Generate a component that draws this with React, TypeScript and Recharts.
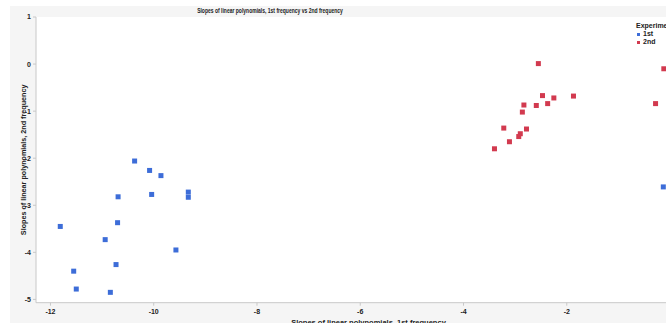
import { ScatterChart, Scatter, XAxis, YAxis, Label } from "recharts";

// 1st frequency slope (x) vs 2nd frequency slope (y)
const firstX = [-11.81, -11.55, -11.5, -10.94, -10.84, -10.73, -10.7, -10.69, -10.37, -10.08, -10.04, -9.86, -9.57, -9.33, -9.33, -0.13];
const firstY = [-3.45, -4.4, -4.78, -3.73, -4.85, -4.26, -3.37, -2.82, -2.06, -2.26, -2.77, -2.37, -3.95, -2.72, -2.83, -2.61];

const secondX = [-2.55, -2.47, -2.25, -1.87, -2.83, -2.59, -2.37, -2.86, -3.22, -2.78, -2.9, -2.93, -3.11, -3.4, -0.12, -0.28];
const secondY = [0.01, -0.67, -0.72, -0.68, -0.87, -0.88, -0.84, -1.02, -1.36, -1.38, -1.48, -1.54, -1.65, -1.8, -0.1, -0.84];

const xTicks = [-12, -10, -8, -6, -4, -2, 0];
const yTicks = [-5, -4, -3, -2, -1, 0, 1];

const BLUE = "#3d6dd8";
const RED = "#d23a4f";

const firstData = firstX.map((x, i) => ({ x, y: firstY[i] }));
const secondData = secondX.map((x, i) => ({ x, y: secondY[i] }));

const font = "'Liberation Sans', Arial, sans-serif";
const tickStyle = { fontSize: 7, fontWeight: 700, fill: "#222", fontFamily: font };

const Square = (props: any) => {
  const { cx, cy, fill } = props;
  return <rect x={cx - 2.5} y={cy - 2.5} width={5} height={5} fill={fill} />;
};

export default function App() {
  return (
    <div style={{ position: "absolute", left: 0, top: 0, width: 666, height: 323, overflow: "hidden", background: "#fff" }}>
      <div style={{ position: "absolute", left: 10, top: 6, width: 700, height: 330, background: "#f5f5f5" }} />
      <div style={{ position: "absolute", left: 36, top: 17, width: 700, height: 286, background: "#fff" }} />
      <div style={{ position: "absolute", left: 0, top: 0 }}>
        <ScatterChart width={720} height={323} margin={{ top: 17, right: 19, bottom: 0, left: 0 }}>
          <XAxis
            type="number"
            dataKey="x"
            domain={[-12.28, 0.6]}
            ticks={xTicks}
            allowDataOverflow
            stroke="#c8c8c8"
            tickSize={3}
            tick={tickStyle}
            tickMargin={3}
            height={20.3}
          >
            <Label value="Slopes of linear polynomials, 1st frequency" position="bottom" offset={-3} style={{ fontSize: 7.5, fontWeight: 700, fill: "#222", fontFamily: font }} />
          </XAxis>
          <YAxis
            type="number"
            dataKey="y"
            domain={[-5.07, 1]}
            ticks={yTicks}
            allowDataOverflow
            stroke="#c8c8c8"
            tickSize={3}
            tick={tickStyle}
            tickMargin={2}
            width={36}
          >
            <Label value="Slopes of linear polynomials, 2nd frequency" angle={-90} position="left" offset={-23} style={{ fontSize: 7.2, fontWeight: 700, fill: "#222", fontFamily: font, textAnchor: "middle" }} />
          </YAxis>
          <Scatter name="1st" data={firstData} fill={BLUE} shape={Square} isAnimationActive={false} />
          <Scatter name="2nd" data={secondData} fill={RED} shape={Square} isAnimationActive={false} />
        </ScatterChart>
      </div>
      <div style={{ position: "absolute", left: 0, top: 7, width: 540, textAlign: "center", fontSize: 6.5, fontWeight: 700, fontFamily: font, color: "#222", transform: "scaleX(0.77)" }}>
        Slopes of linear polynomials, 1st frequency vs 2nd frequency
      </div>
      <div style={{ position: "absolute", left: 636, top: 22, fontSize: 7, fontWeight: 700, fontFamily: font, color: "#222", lineHeight: "8px", whiteSpace: "nowrap" }}>
        <div>Experiment</div>
        <div><span style={{ display: "inline-block", width: 3, height: 3, background: BLUE, marginLeft: 1, marginRight: 3, verticalAlign: "middle" }} />1st</div>
        <div><span style={{ display: "inline-block", width: 3, height: 3, background: RED, marginLeft: 1, marginRight: 3, verticalAlign: "middle" }} />2nd</div>
      </div>
    </div>
  );
}
